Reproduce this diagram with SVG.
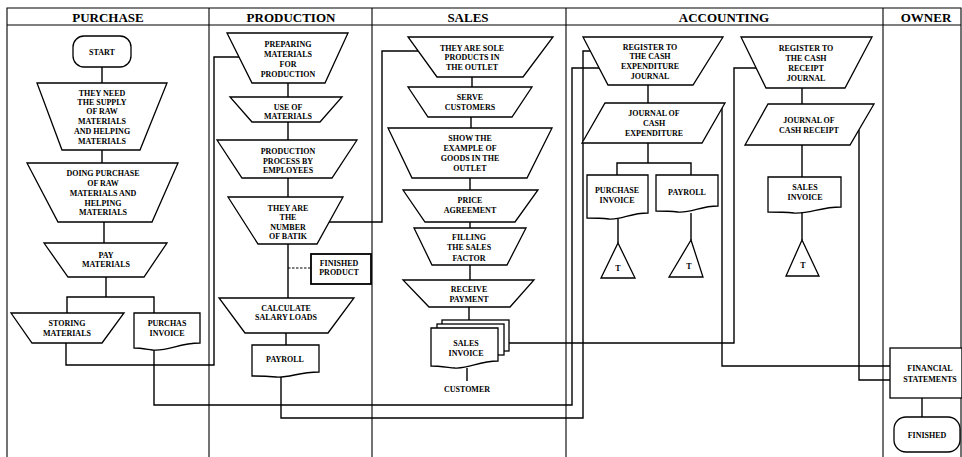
<svg xmlns="http://www.w3.org/2000/svg" width="962" height="457" viewBox="0 0 962 457">
<style>
.lane{fill:none;stroke:#000;stroke-width:1.1}
.s{fill:#fff;stroke:#000;stroke-width:1.3}
.c{fill:none;stroke:#000;stroke-width:1.4}
.d{fill:none;stroke:#000;stroke-width:1;stroke-dasharray:2.5 1.5}
.t{font-family:"Liberation Serif","Times New Roman",serif;font-weight:bold;font-size:8px;text-anchor:middle;fill:#000}
.h{font-size:13px}
</style>
<rect x="0" y="0" width="962" height="457" fill="#fff"/>
<g id="lanes">
<path class="lane" d="M7,457 V8 H961 V457 M7,25 H961 M209,8 V457 M372,8 V457 M566,8 V457 M883,8 V457"/>
<text class="t h" x="108" y="21.5">PURCHASE</text>
<text class="t h" x="291" y="21.5">PRODUCTION</text>
<text class="t h" x="468" y="21.5">SALES</text>
<text class="t h" x="724" y="21.5">ACCOUNTING</text>
<text class="t h" x="926" y="21.5">OWNER</text>
</g>
<g id="connectors">
<path class="c" d="M102,67 V83 M102,150 V163 M104,222 V243 M106,277 V297 M67,313 V297 H154 V313"/>
<path class="c" d="M66,343 V365 H214 V57 H239"/>
<path class="c" d="M154,350 V405 H572 V68 H599"/>
<path class="c" d="M288,83 V97 M288,122 V140 M288,178 V197 M288,244 V298 M286,333 V345"/>
<path class="d" d="M288,268 H311"/>
<path class="c" d="M327,222 H382 V51 H418"/>
<path class="c" d="M281,376 V418 H583 V51 H590"/>
<path class="c" d="M472,77 V87 M471,117 V128 M470,178 V190 M470,222 V228 M470,265 V280 M469,307 V320 M467,368 V381"/>
<path class="c" d="M509,343 H734 V68 H756"/>
<path class="c" d="M648,85 V103 M648,143 V163 M617,175 V163 H691 V175 M618,219 V243 M691,213 V240"/>
<path class="c" d="M802,88 V104 M802,145 V177 M802,212 V240"/>
<path class="c" d="M722,108 V366 H890"/>
<path class="c" d="M859,130 V380 H890"/>
<path class="c" d="M922,398 V417"/>
</g>
<g id="start">
<rect class="s" x="73" y="36" width="58" height="31" rx="11"/>
<text class="t" x="102" y="54.5">START</text>
</g>
<g id="need-supply">
<polygon class="s" points="37,83 167,83 140,150 62,150"/>
<text class="t" x="102" y="95.8">THEY NEED</text>
<text class="t" x="102" y="104.8">THE SUPPLY</text>
<text class="t" x="102" y="113.8">OF RAW</text>
<text class="t" x="102" y="123.8">MATERIALS</text>
<text class="t" x="102" y="133.8">AND HELPING</text>
<text class="t" x="102" y="143.8">MATERIALS</text>
</g>
<g id="doing-purchase">
<polygon class="s" points="27,163 178,163 152,222 58,222"/>
<text class="t" x="103" y="175.5">DOING PURCHASE</text>
<text class="t" x="103" y="185.5">OF RAW</text>
<text class="t" x="103" y="195.5">MATERIALS AND</text>
<text class="t" x="103" y="205.5">HELPING</text>
<text class="t" x="103" y="214.5">MATERIALS</text>
</g>
<g id="pay-materials">
<polygon class="s" points="44,243 167,243 144,277 68,277"/>
<text class="t" x="106" y="257.5">PAY</text>
<text class="t" x="106" y="266.5">MATERIALS</text>
</g>
<g id="storing-materials">
<polygon class="s" points="11,313 124,313 102,343 32,343"/>
<text class="t" x="67" y="325.5">STORING</text>
<text class="t" x="67" y="335.5">MATERIALS</text>
</g>
<g id="purchas-invoice">
<path class="s" d="M134,313 H200 V343 C178,343 168,352 152,350 C145,349 140,348 134,348 Z"/>
<text class="t" x="167" y="325.5">PURCHAS</text>
<text class="t" x="167" y="335.5">INVOICE</text>
</g>
<g id="preparing">
<polygon class="s" points="227,33 348,33 325,83 252,83"/>
<text class="t" x="288" y="46.5">PREPARING</text>
<text class="t" x="288" y="56.5">MATERIALS</text>
<text class="t" x="288" y="66.5">FOR</text>
<text class="t" x="288" y="76.5">PRODUCTION</text>
</g>
<g id="use-materials">
<polygon class="s" points="230,97 342,97 320,122 252,122"/>
<text class="t" x="288" y="109.5">USE OF</text>
<text class="t" x="288" y="118.5">MATERIALS</text>
</g>
<g id="production-process">
<polygon class="s" points="217,140 357,140 332,178 242,178"/>
<text class="t" x="288" y="153.5">PRODUCTION</text>
<text class="t" x="288" y="163.5">PROCESS BY</text>
<text class="t" x="288" y="172.5">EMPLOYEES</text>
</g>
<g id="number-batik">
<polygon class="s" points="228,197 343,197 317,244 258,244"/>
<text class="t" x="288" y="210.5">THEY ARE</text>
<text class="t" x="288" y="220">THE</text>
<text class="t" x="288" y="229.5">NUMBER</text>
<text class="t" x="288" y="238.5">OF BATIK</text>
</g>
<g id="finished-product">
<rect x="311" y="254" width="60" height="30" fill="#fff" stroke="#000" stroke-width="1.8"/>
<text class="t" x="339" y="265.5">FINISHED</text>
<text class="t" x="339" y="274.5">PRODUCT</text>
</g>
<g id="calculate-salary">
<polygon class="s" points="219,298 354,298 328,333 245,333"/>
<text class="t" x="286" y="310.5">CALCULATE</text>
<text class="t" x="286" y="319.5">SALARY LOADS</text>
</g>
<g id="payroll-production">
<path class="s" d="M252,345 H319 V372 C298,372 290,378 276,377 C265,376 258,376 252,376 Z"/>
<text class="t" x="285" y="361.5">PAYROLL</text>
</g>
<g id="sole-products">
<polygon class="s" points="408,37 553,37 523,77 437,77"/>
<text class="t" x="472" y="50.5">THEY ARE SOLE</text>
<text class="t" x="472" y="59.5">PRODUCTS IN</text>
<text class="t" x="472" y="69.5">THE OUTLET</text>
</g>
<g id="serve-customers">
<polygon class="s" points="408,87 532,87 512,117 428,117"/>
<text class="t" x="470" y="99.5">SERVE</text>
<text class="t" x="470" y="109.5">CUSTOMERS</text>
</g>
<g id="show-example">
<polygon class="s" points="388,128 552,128 527,178 412,178"/>
<text class="t" x="470" y="140.5">SHOW THE</text>
<text class="t" x="470" y="150.5">EXAMPLE OF</text>
<text class="t" x="470" y="160.5">GOODS IN THE</text>
<text class="t" x="470" y="170.5">OUTLET</text>
</g>
<g id="price-agreement">
<polygon class="s" points="403,190 538,190 515,222 425,222"/>
<text class="t" x="470" y="202.5">PRICE</text>
<text class="t" x="470" y="212.5">AGREEMENT</text>
</g>
<g id="filling-sales">
<polygon class="s" points="414,228 526,228 507,265 432,265"/>
<text class="t" x="469" y="239.5">FILLING</text>
<text class="t" x="469" y="250">THE SALES</text>
<text class="t" x="469" y="260.5">FACTOR</text>
</g>
<g id="receive-payment">
<polygon class="s" points="403,280 534,280 510,307 429,307"/>
<text class="t" x="469" y="291.5">RECEIVE</text>
<text class="t" x="469" y="301.5">PAYMENT</text>
</g>
<g id="sales-invoice-stack">
<rect class="s" x="442" y="320" width="67" height="31"/>
<rect class="s" x="437" y="324" width="67" height="31"/>
<path class="s" d="M431,328 H498 V361 C478,361 470,369 455,368 C445,367 438,366 431,366 Z"/>
<text class="t" x="466" y="345.5">SALES</text>
<text class="t" x="466" y="355.5">INVOICE</text>
</g>
<g id="customer">
<text class="t" x="467" y="391.5">CUSTOMER</text>
</g>
<g id="register-expenditure">
<polygon class="s" points="583,37 723,37 693,85 608,85"/>
<text class="t" x="650" y="49.5">REGISTER TO</text>
<text class="t" x="650" y="58.5">THE CASH</text>
<text class="t" x="650" y="68.5">EXPENDITURE</text>
<text class="t" x="650" y="78.5">JOURNAL</text>
</g>
<g id="journal-expenditure">
<polygon class="s" points="605,103 725,103 702,143 582,143"/>
<text class="t" x="654" y="115.5">JOURNAL OF</text>
<text class="t" x="654" y="125.5">CASH</text>
<text class="t" x="654" y="135.5">EXPENDITURE</text>
</g>
<g id="purchase-invoice-acc">
<path class="s" d="M587,175 H648 V213 C630,213 622,220 609,219 C600,218 593,218 587,218 Z"/>
<text class="t" x="617" y="192.5">PURCHASE</text>
<text class="t" x="617" y="202.5">INVOICE</text>
</g>
<g id="payroll-acc">
<path class="s" d="M656,175 H718 V206 C700,206 692,213 678,212 C669,211 662,211 656,211 Z"/>
<text class="t" x="687" y="194.5">PAYROLL</text>
</g>
<g id="file-t1">
<polygon class="s" points="618,243 635,278 601,278"/>
<text class="t" x="618" y="271">T</text>
</g>
<g id="file-t2">
<polygon class="s" points="691,240 703,277 669,277"/>
<text class="t" x="689" y="269">T</text>
</g>
<g id="register-receipt">
<polygon class="s" points="741,37 872,37 845,88 766,88"/>
<text class="t" x="806" y="50.5">REGISTER TO</text>
<text class="t" x="806" y="60.5">THE CASH</text>
<text class="t" x="806" y="70.5">RECEIPT</text>
<text class="t" x="806" y="80.5">JOURNAL</text>
</g>
<g id="journal-receipt">
<polygon class="s" points="768,104 874,104 850,145 745,145"/>
<text class="t" x="809" y="122.5">JOURNAL OF</text>
<text class="t" x="809" y="132.5">CASH RECEIPT</text>
</g>
<g id="sales-invoice-acc">
<path class="s" d="M768,177 H841 V207 C820,207 810,214 794,213 C784,212 775,212 768,212 Z"/>
<text class="t" x="805" y="189.5">SALES</text>
<text class="t" x="805" y="199.5">INVOICE</text>
</g>
<g id="file-t3">
<polygon class="s" points="802,240 819,276 786,276"/>
<text class="t" x="803" y="268">T</text>
</g>
<g id="financial-statements">
<rect class="s" x="890" y="348" width="72" height="50"/>
<text class="t" x="930" y="370.5">FINANCIAL</text>
<text class="t" x="930" y="381.5">STATEMENTS</text>
</g>
<g id="finished">
<rect class="s" x="894" y="417" width="66" height="35" rx="12"/>
<text class="t" x="927" y="437.5">FINISHED</text>
</g>
</svg>
